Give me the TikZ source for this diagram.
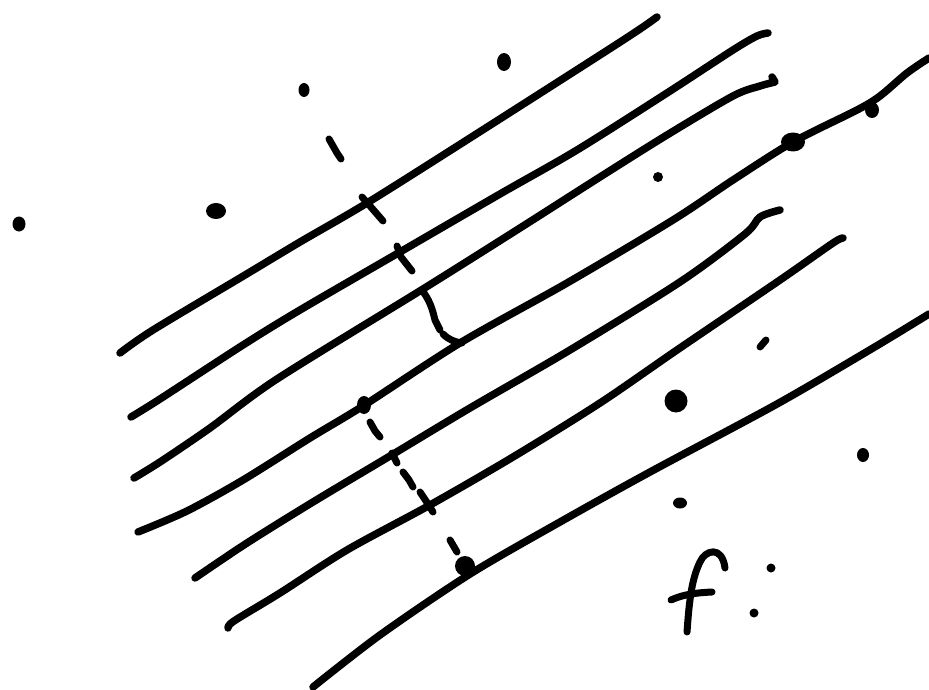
\documentclass[tikz,border=0pt]{standalone}
\begin{document}
\begin{tikzpicture}[x=1pt,y=-1pt,
  ink/.style={line width=7.5pt,line cap=round,line join=round,black},
  thin ink/.style={line width=7pt,line cap=round,line join=round,black},
  blob/.style={fill=black}]
\useasboundingbox[fill=white] (0,0) rectangle (929,690);
% long strokes
\draw[ink] plot[smooth,tension=0.5] coordinates {(120,353) (153,330) (245,275) (300,242) (367,203) (470,138) (600,55) (640,29) (657,17)};
\draw[ink] plot[smooth,tension=0.5] coordinates {(131,417) (160,399) (243,345) (300,310) (400,252) (500,194) (577,150) (667,93) (733,50) (757,36) (768,33)};
\draw[ink] plot[smooth,tension=0.5] coordinates {(134,478) (160,462) (210,428) (277,379) (423,289) (520,228) (600,177) (667,135) (733,96) (760,86) (775,82)} -- (772,77);
\draw[ink] plot[smooth,tension=0.5] coordinates {(138,532) (187,511) (243,480) (310,438) (363,406) (460,343) (567,283) (673,220) (733,180) (793,142) (857,110) (880,96) (907,73) (929,58)};
\draw[ink] plot[smooth,tension=0.5] coordinates {(195,578) (247,543) (313,502) (390,456) (470,408) (570,350) (680,282) (745,234) (760,217) (780,210)};
\draw[ink] plot[smooth,tension=0.5] coordinates {(228,628) (234,621) (280,593) (347,550) (430,505) (513,457) (600,403) (677,350) (780,280) (833,243) (843,238)};
\draw[ink] plot[smooth,tension=0.5] coordinates {(313,687) (380,635) (470,574) (560,522) (650,472) (777,404) (873,348) (929,314)};
% marks across the strokes
\fill[blob] (304,90) ellipse (5.5pt and 7pt);
\draw[thin ink] (329,139) -- (337,153) -- (341,159);
\draw[thin ink] (362,197) -- (370,206) -- (383,221);
\draw[thin ink] (397,246) -- (401,257) -- (412,271);
\draw[thin ink] (424,293) .. controls (431,303) and (433,312) .. (435,320) -- (440,330);
\draw[thin ink] (443,334) .. controls (449,340) and (455,342) .. (462,343);
\fill[blob] (364,405) ellipse (7pt and 9pt);
\draw[thin ink] (370,422) -- (375,431) -- (380,437);
\draw[thin ink] (392,453) -- (397,463);
\draw[thin ink] (403,472) -- (409,480) -- (413,487);
\draw[thin ink] (420,492) -- (426,501) -- (433,512);
\draw[thin ink] (450,540) -- (457,552);
\fill[blob] (465,566) ellipse (10pt and 10pt);
% scattered dots
\fill[blob] (19,224) ellipse (6.5pt and 7.5pt);
\fill[blob] (216,211) ellipse (10pt and 8pt);
\fill[blob] (504,62) ellipse (7pt and 9pt);
\fill[blob] (658,177) circle (5pt);
\fill[blob] (793,142) ellipse (12pt and 9.5pt);
\fill[blob] (872,110) ellipse (7pt and 8pt);
\draw[thin ink] (760,347) -- (766,340);
\fill[blob] (676,401) circle (11.5pt);
\fill[blob] (863,455) ellipse (6pt and 7pt);
\fill[blob] (680,503) ellipse (7pt and 5.5pt);
\fill[blob] (771,568) circle (4.5pt);
\fill[blob] (754,613) circle (4.5pt);
% the letter f
\draw[thin ink] (687,632) .. controls (689,605) and (691,580) .. (700,562) .. controls (705,550) and (722,545) .. (725,568);
\draw[thin ink] (671,600) .. controls (680,596) and (690,593) .. (712,592);
\end{tikzpicture}
\end{document}
